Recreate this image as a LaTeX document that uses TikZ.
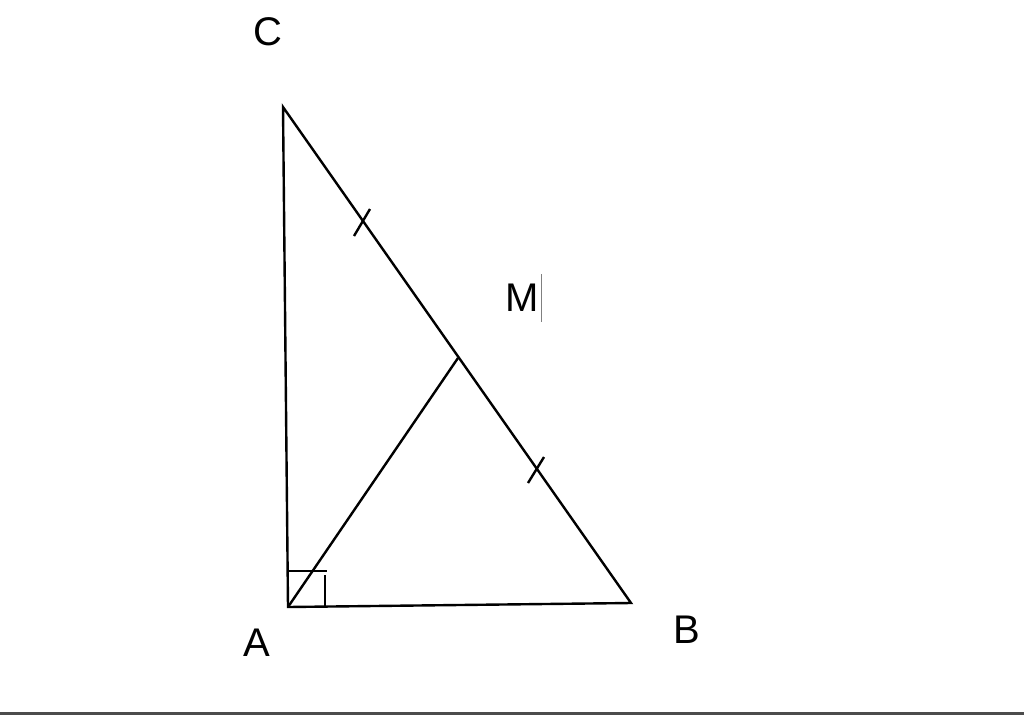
\documentclass[tikz,border=0pt]{standalone}
\usepackage{fontspec}
\setmainfont{Liberation Sans}
\begin{document}
\begin{tikzpicture}[x=1pt,y=-1pt,
  seg/.style={line width=2.4pt,black},
  lbl/.style={font=\fontsize{40}{48}\selectfont,inner sep=0pt,anchor=center}]
\useasboundingbox (0,0) rectangle (1024,715);
\fill[white] (0,0) rectangle (1024,715);
\coordinate (C) at (283,107);
\coordinate (A) at (288,607);
\coordinate (B) at (631,603);
\coordinate (M) at (458,358);
\draw[seg] (C) -- (A) -- (B) -- cycle;
\draw[seg] (A) -- (M);
% right angle marker
\coordinate (r1) at (289,571);
\coordinate (r2) at (327,571);
\coordinate (r3) at (325,575);
\coordinate (r4) at (325,606);
\draw[seg] (r1) -- (r2);
\draw[seg] (r3) -- (r4);
% ticks
\coordinate (t1a) at (354,236);
\coordinate (t1b) at (370,209);
\coordinate (t2a) at (528,483);
\coordinate (t2b) at (544,457);
\draw[seg] (t1a) -- (t1b);
\draw[seg] (t2a) -- (t2b);
% labels
\node[lbl] (lC) at (268,32) {C};
\node[lbl] (lM) at (522,298) {M};
\node[lbl] (lA) at (257,643) {A};
\node[lbl] (lB) at (687,630) {B};
% text cursor
\coordinate (k1) at (541,274);
\coordinate (k2) at (541,322);
\draw[gray,line width=1pt] (k1) -- (k2);
% bottom border
\coordinate (b1) at (0,713.5);
\coordinate (b2) at (1024,713.5);
\draw[black!70,line width=3pt] (b1) -- (b2);
\end{tikzpicture}
\end{document}
